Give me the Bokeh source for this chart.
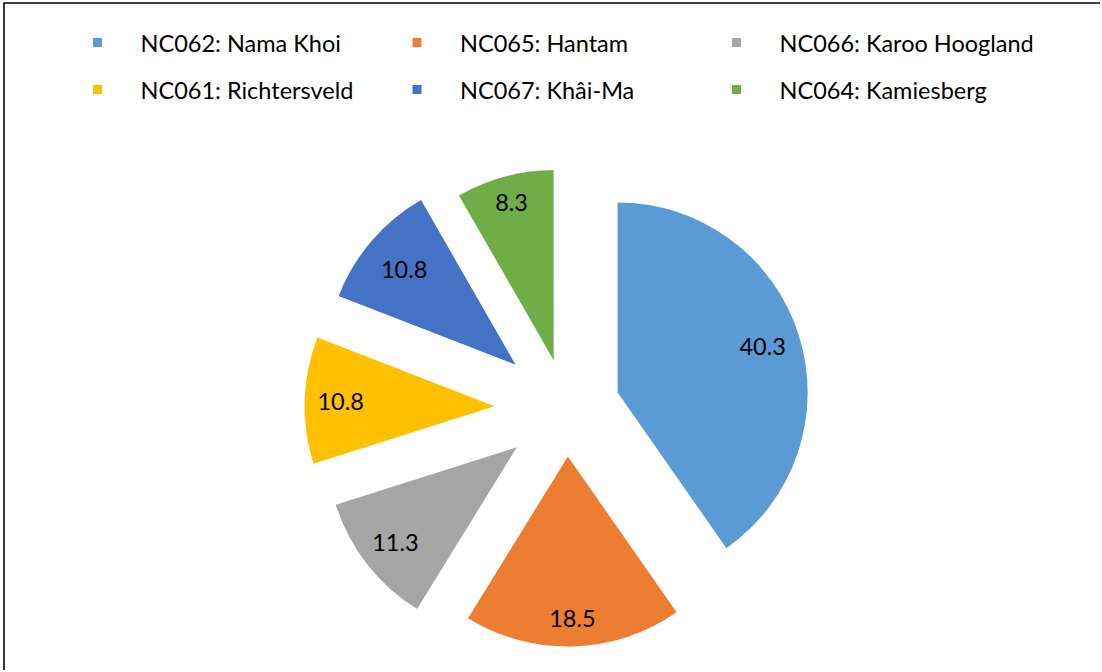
import numpy as np
from bokeh.plotting import figure
from bokeh.models import Range1d
from bokeh.core.properties import value
from bokeh.embed import file_html
from bokeh.resources import INLINE

# ---- data ----
names = ["NC062: Nama Khoi", "NC065: Hantam", "NC066: Karoo Hoogland",
         "NC061: Richtersveld", "NC067: Khâi-Ma", "NC064: Kamiesberg"]
values = [40.3, 18.5, 11.3, 10.8, 10.8, 8.3]
labels = ["40.3", "18.5", "11.3", "10.8", "10.8", "8.3"]
colors = ["#5B9BD5", "#ED7D31", "#A5A5A5", "#FFC000", "#4472C4", "#70AD47"]

# ---- layout / style ----
explode = np.array([53.6, 48.0, 63.0, 72.0, 67.0, 50.0])   # px offset of each slice
label_dist = np.array([152.0, 162.0, 154.0, 154.0, 147.0, 163.0])
R = 190.0
CX, CY = 566.0, 408.0          # pie centre (page pixels)
FONT = "Lato"
FS = "23.5px"

W, H = 1100, 670

p = figure(width=W, height=H, x_range=Range1d(0, W), y_range=Range1d(-H, 0),
           output_backend="svg", toolbar_location=None, min_border=0)
p.axis.visible = False
p.grid.visible = False
p.outline_line_color = None
p.background_fill_color = "white"
p.border_fill_color = "white"

vals = np.array(values)
frac = vals / vals.sum()
cum = np.concatenate([[0.0], np.cumsum(frac)]) * 2 * np.pi
t1, t2 = cum[:-1], cum[1:]
mid = (t1 + t2) / 2
ux, uy = np.sin(mid), np.cos(mid)
ax = CX + explode * ux
ay = -CY + explode * uy

p.wedge(x=ax, y=ay, radius=R, start_angle=np.pi / 2 - t2, end_angle=np.pi / 2 - t1,
        fill_color=colors, line_color=None)

p.text(x=ax + label_dist * ux, y=ay + label_dist * uy, text=labels,
       text_font=value(FONT), text_font_size=FS, text_color="black",
       text_align="center", text_baseline="middle")

# legend (3 columns x 2 rows)
idx = np.arange(len(names))
col, row = idx % 3, idx // 3
mx = 97 + 319.5 * col
my = -(42 + 47 * row)
p.scatter(x=mx, y=my, marker="square", size=9, fill_color=colors, line_color=None)
p.text(x=mx + 43, y=my, text=names, text_font=value(FONT), text_font_size=FS,
       text_color="black", text_align="left", text_baseline="middle")

# chart border (left and top edges visible; the rest lies outside the view)
p.line(x=[3.5, 3.5, W + 5], y=[-H - 5, -2.5, -2.5], line_color="black",
       line_width=1.6, line_join="miter")

open("out.html", "w").write(file_html(p, INLINE))
